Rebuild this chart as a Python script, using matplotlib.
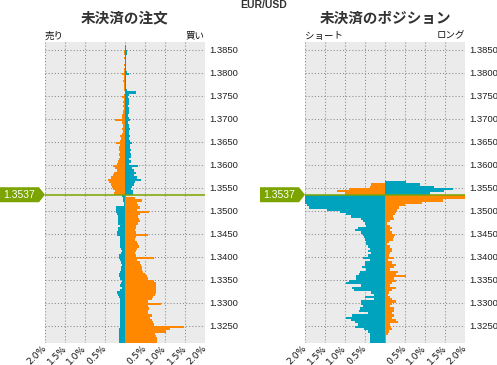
import numpy as np
import matplotlib
matplotlib.use("Agg")
import matplotlib.pyplot as plt
from matplotlib.patches import Polygon
from matplotlib.transforms import blended_transform_factory

# ---------------- data ----------------
pair = "EUR/USD"
current_price = 1.3537
bucket_size = 0.0005
highest_bucket = 1.3855   # lower edge of the highest bucket

order_title = "未決済の注文"
position_title = "未決済のポジション"
order_left_label, order_right_label = "売り", "買い"
position_left_label, position_right_label = "ショート", "ロング"

# Open orders, buckets above the price (1.3855 down to 1.3535), % of total
order_above_left = [0.0, 0.0, 0.035, 0.02, 0.01, 0.02, 0.01, 0.0, 0.02, 0.01,
                    0.02, 0.03, 0.07, 0.03, 0.03, 0.04, 0.03, 0.03, 0.03, 0.02,
                    0.01, 0.03, 0.07, 0.03, 0.04, 0.03, 0.04, 0.03, 0.05, 0.04,
                    0.08, 0.08, 0.25, 0.07, 0.06, 0.05, 0.07, 0.06, 0.08, 0.13,
                    0.10, 0.12, 0.22, 0.13, 0.15, 0.16, 0.12, 0.14, 0.12, 0.16,
                    0.18, 0.20, 0.31, 0.24, 0.21, 0.28, 0.31, 0.36, 0.43, 0.39,
                    0.34, 0.33, 0.29, 0.26, 0.28]
order_above_right = [0.025, 0.03, 0.04, 0.05, 0.03, 0.03, 0.02, 0.03, 0.03, 0.02,
                     0.03, 0.04, 0.11, 0.03, 0.03, 0.02, 0.03, 0.02, 0.02, 0.04,
                     0.27, 0.10, 0.08, 0.10, 0.09, 0.10, 0.08, 0.10, 0.09, 0.11,
                     0.08, 0.10, 0.12, 0.08, 0.09, 0.10, 0.12, 0.10, 0.11, 0.13,
                     0.10, 0.12, 0.18, 0.13, 0.12, 0.14, 0.12, 0.14, 0.14, 0.11,
                     0.14, 0.10, 0.33, 0.18, 0.22, 0.28, 0.22, 0.31, 0.39, 0.26,
                     0.22, 0.18, 0.16, 0.19, 0.19]
# Open orders, buckets below the price (1.3530 down to 1.3210)
order_below_left = [0.08, 0.05, 0.04, 0.03, 0.03, 0.23, 0.22, 0.22, 0.20, 0.18,
                    0.18, 0.17, 0.17, 0.13, 0.18, 0.17, 0.20, 0.20, 0.13, 0.12,
                    0.13, 0.12, 0.12, 0.10, 0.08, 0.10, 0.15, 0.15, 0.13, 0.10,
                    0.08, 0.10, 0.10, 0.12, 0.15, 0.15, 0.12, 0.08, 0.10, 0.12,
                    0.08, 0.12, 0.20, 0.18, 0.15, 0.13, 0.13, 0.13, 0.12, 0.13,
                    0.12, 0.13, 0.13, 0.12, 0.13, 0.13, 0.13, 0.13, 0.15, 0.14,
                    0.14, 0.15, 0.14, 0.14, 0.14]
order_below_right = [0.02, 0.25, 0.43, 0.30, 0.33, 0.38, 0.30, 0.60, 0.37, 0.32,
                     0.35, 0.38, 0.32, 0.28, 0.27, 0.25, 0.28, 0.58, 0.28, 0.25,
                     0.30, 0.32, 0.35, 0.30, 0.27, 0.25, 0.28, 0.73, 0.30, 0.37,
                     0.40, 0.42, 0.43, 0.45, 0.50, 0.55, 0.58, 0.73, 0.77, 0.78,
                     0.78, 0.77, 0.78, 0.75, 0.70, 0.67, 0.57, 0.90, 0.57, 0.60,
                     0.58, 0.58, 0.67, 0.62, 0.67, 0.70, 0.72, 1.48, 1.13, 1.03,
                     0.75, 0.78, 0.80, 0.80, 0.80]

# Open positions, buckets above the price (1.3855 down to 1.3535)
position_above_left = [0.0] * 59 + [0.0, 0.36, 0.38, 0.90, 1.20, 1.00]
position_above_right = [0.0] * 59 + [0.52, 0.88, 1.22, 1.70, 1.47, 1.12]
# Open positions, buckets below the price (1.3530 down to 1.3210)
position_below_left = [2.3, 2.3, 2.3, 2.3, 1.95, 1.90, 1.45,
                       1.13, 0.97, 0.86, 0.61, 0.55, 0.51, 0.47, 0.68, 0.76, 0.59,
                       0.55, 0.53, 0.50, 0.48, 0.47, 0.43, 0.38, 0.43, 0.34, 0.43,
                       0.55, 0.38, 0.51, 0.50, 0.58, 0.48, 0.62, 0.65, 0.73, 0.73,
                       0.90, 0.98, 0.61, 0.82, 0.78, 0.34, 0.28, 0.50, 0.28, 0.61,
                       0.61, 0.55, 0.63, 0.65, 0.43, 0.83, 0.97, 0.84, 0.76, 0.68,
                       0.76, 0.53, 0.43, 0.38, 0.38, 0.38, 0.38, 0.38]
position_below_right = [2.3, 2.3, 1.45, 0.92, 0.50, 0.35, 0.30,
                        0.27, 0.25, 0.20, 0.22, 0.12, 0.05, 0.12, 0.17, 0.12, 0.17,
                        0.25, 0.22, 0.20, 0.10, 0.05, 0.12, 0.18, 0.17, 0.12, 0.10,
                        0.22, 0.08, 0.17, 0.27, 0.22, 0.13, 0.32, 0.28, 0.53, 0.23,
                        0.28, 0.18, 0.12, 0.27, 0.17, 0.10, 0.08, 0.13, 0.18, 0.27,
                        0.17, 0.13, 0.22, 0.22, 0.17, 0.22, 0.18, 0.27, 0.33, 0.12,
                        0.15, 0.17, 0.10, 0.07, 0.03, 0.02, 0.02, 0.02]

x_ticks = [-2.0, -1.5, -1.0, -0.5, 0.0, 0.5, 1.0, 1.5, 2.0]
x_tick_labels = ["2.0%", "1.5%", "1.0%", "0.5%", "", "0.5%", "1.0%", "1.5%", "2.0%"]
y_ticks = [1.3250, 1.3300, 1.3350, 1.3400, 1.3450, 1.3500, 1.3550, 1.3600,
           1.3650, 1.3700, 1.3750, 1.3800, 1.3850]

# ---------------- style ----------------
ORANGE = "#FF8800"
TEAL = "#00A3BD"
GREEN = "#7BA400"
BG = "#EBEBEB"
W, H = 497, 365

plt.rcParams['font.family'] = ['Liberation Sans', 'Noto Sans CJK JP', 'DejaVu Sans']
fig = plt.figure(figsize=(W / 100, H / 100), dpi=100)
fig.patch.set_facecolor("white")

ax_top_px, ax_bot_px = 42.0, 342.7
ylim = (1.32130, 1.38674)

split = np.floor(current_price / bucket_size + 1e-9) * bucket_size
n_above = len(order_above_left)
n_below = len(order_below_left)
above_centers = highest_bucket - bucket_size * np.arange(n_above) + bucket_size / 2
below_centers = (split - bucket_size) - bucket_size * np.arange(n_below) + bucket_size / 2


def draw_panel(left_px, title, lab_l, lab_r, a_l, a_r, b_l, b_r):
    ax = fig.add_axes([left_px / W, 1 - ax_bot_px / H, 160 / W, (ax_bot_px - ax_top_px) / H])
    ax.set_facecolor(BG)
    ax.set_axisbelow(True)
    kw = dict(height=bucket_size, linewidth=0, zorder=2)
    ax.barh(above_centers, -np.array(a_l), color=ORANGE, **kw)
    ax.barh(above_centers, np.array(a_r), color=TEAL, **kw)
    ax.barh(below_centers, -np.array(b_l), color=TEAL, **kw)
    ax.barh(below_centers, np.array(b_r), color=ORANGE, **kw)
    ax.set_xlim(-2.0, 2.0)
    ax.set_ylim(*ylim)
    ax.set_xticks(x_ticks)
    ax.set_xticklabels(x_tick_labels, rotation=45, ha="right", va="center",
                       rotation_mode="anchor", fontsize=6.6, color="#111111",
                       family=["DejaVu Sans"])
    ax.set_yticks(y_ticks)
    ax.set_yticklabels([f"{v:.4f}" for v in y_ticks], fontsize=6.8, color="#222222")
    ax.yaxis.tick_right()
    ax.tick_params(axis="both", length=0)
    ax.tick_params(axis="y", pad=3)
    ax.tick_params(axis="x", pad=3)
    ax.grid(True, color="#8a8a8a", linestyle=(0, (1, 2)), linewidth=0.75)
    for s in ax.spines.values():
        s.set_visible(False)
    # current price line
    ax.axhline(split, color=GREEN, linewidth=1.1, zorder=4)
    # price label with arrow
    px_per_unit = (ax_bot_px - ax_top_px) / (ylim[1] - ylim[0])
    hh = 7.5 / px_per_unit
    tr = blended_transform_factory(fig.transFigure, ax.transData)
    x0 = (left_px - 45) / W
    x1 = (left_px - 6) / W
    x2 = left_px / W
    poly = Polygon([(x0, split + hh), (x1, split + hh), (x2, split),
                    (x1, split - hh), (x0, split - hh)], closed=True,
                   facecolor=GREEN, edgecolor="none", transform=tr, clip_on=False)
    fig.add_artist(poly)
    t = fig.text((left_px - 26) / W, 0, f"{current_price:.4f}", transform=tr,
                 ha="center", va="center", fontsize=7.5, color="white")
    t.set_y(split)
    # titles
    cx = (left_px + 80) / W
    fig.text(cx, 1 - 17.5 / H, title, ha="center", va="center", fontsize=10.5,
             fontweight="bold", color="#333333", family=["Noto Sans CJK JP", "DejaVu Sans"])
    fig.text(left_px / W, 1 - 36 / H, lab_l, ha="left", va="center", fontsize=6.8,
             color="#111111", family=["Noto Sans CJK JP", "DejaVu Sans"])
    fig.text((left_px + 160) / W, 1 - 36 / H, lab_r, ha="right", va="center", fontsize=6.8,
             color="#111111", family=["Noto Sans CJK JP", "DejaVu Sans"])
    return ax


draw_panel(45, order_title, order_left_label, order_right_label,
           order_above_left, order_above_right, order_below_left, order_below_right)
draw_panel(305, position_title, position_left_label, position_right_label,
           position_above_left, position_above_right, position_below_left, position_below_right)

fig.text(263.5 / W, 1 - 4.5 / H, pair, ha="center", va="center", fontsize=7.5,
         fontweight="bold", color="#333333")

fig.savefig("out.png", dpi=100)
